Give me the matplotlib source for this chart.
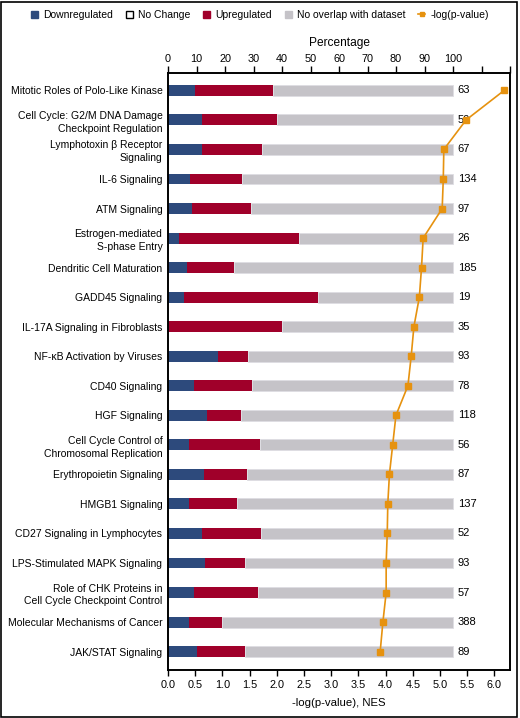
import matplotlib
matplotlib.use("Agg")
import matplotlib.pyplot as plt
from matplotlib.patches import Patch, Rectangle
from matplotlib.lines import Line2D

plt.rcParams['font.family'] = ['Liberation Sans', 'DejaVu Sans']

pathways = [
    "Mitotic Roles of Polo-Like Kinase",
    "Cell Cycle: G2/M DNA Damage\nCheckpoint Regulation",
    "Lymphotoxin β Receptor\nSignaling",
    "IL-6 Signaling",
    "ATM Signaling",
    "Estrogen-mediated\nS-phase Entry",
    "Dendritic Cell Maturation",
    "GADD45 Signaling",
    "IL-17A Signaling in Fibroblasts",
    "NF-κB Activation by Viruses",
    "CD40 Signaling",
    "HGF Signaling",
    "Cell Cycle Control of\nChromosomal Replication",
    "Erythropoietin Signaling",
    "HMGB1 Signaling",
    "CD27 Signaling in Lymphocytes",
    "LPS-Stimulated MAPK Signaling",
    "Role of CHK Proteins in\nCell Cycle Checkpoint Control",
    "Molecular Mechanisms of Cancer",
    "JAK/STAT Signaling",
]
down_pct = [9.5, 11.9, 11.9, 7.6, 8.4, 3.9, 6.7, 5.5, 0.0, 17.4,
            9.0, 13.8, 7.4, 12.7, 7.4, 11.8, 13.0, 9.0, 7.4, 10.3]
up_pct = [27.5, 26.5, 21.1, 18.5, 20.6, 42.2, 16.5, 47.0, 39.9, 10.6,
          20.5, 11.8, 24.8, 15.0, 16.7, 20.9, 13.9, 22.5, 11.5, 16.8]
nochange_pct = [0.0] * 20
gene_counts = [63, 50, 67, 134, 97, 26, 185, 19, 35, 93,
               78, 118, 56, 87, 137, 52, 93, 57, 388, 89]
neg_log_p = [6.18, 5.48, 5.07, 5.06, 5.04, 4.69, 4.66, 4.62, 4.52, 4.47,
             4.41, 4.19, 4.13, 4.07, 4.04, 4.03, 4.01, 4.01, 3.95, 3.90]

pct_ticks = list(range(0, 121, 10))
pct_labels = [str(t) if t <= 100 else "" for t in pct_ticks]
nes_ticks = [0.0, 0.5, 1.0, 1.5, 2.0, 2.5, 3.0, 3.5, 4.0, 4.5, 5.0, 5.5, 6.0]

C_DOWN = "#2d4a7c"
C_UP = "#a0002a"
C_NONE = "#c5c3c8"
C_LINE = "#e6920f"

fig = plt.figure(figsize=(5.2, 7.18), dpi=100)
fig.patches.append(Rectangle((0.002, 0.002), 0.992, 0.995, transform=fig.transFigure,
                             fill=False, edgecolor="black", linewidth=1.2))

ax = fig.add_axes([0.3231, 0.0669, 0.6577, 0.8315])
ax2 = ax.twiny()
n = len(pathways)
y = list(range(n))
bh = 0.37

left_up = [d + c for d, c in zip(down_pct, nochange_pct)]
left_none = [d + c + u for d, c, u in zip(down_pct, nochange_pct, up_pct)]
rest = [100 - l for l in left_none]

ax.barh(y, rest, left=left_none, height=bh, color=C_NONE, edgecolor="#dedde2", linewidth=0.6)
ax.barh(y, down_pct, left=0, height=bh, color=C_DOWN, linewidth=0)
ax.barh(y, nochange_pct, left=down_pct, height=bh, color="white", linewidth=0)
ax.barh(y, up_pct, left=left_up, height=bh, color=C_UP, linewidth=0)

for yi, cnt in zip(y, gene_counts):
    ax.text(101.7, yi, str(cnt), va="center", ha="left", fontsize=8)

ax.set_xlim(0, 120)
ax.set_ylim(n - 1 + 0.62, -0.59)
ax.xaxis.tick_top()
ax.xaxis.set_label_position("top")
ax.set_xticks(pct_ticks)
ax.set_xticklabels(pct_labels, fontsize=7.8)
ax.set_xlabel("Percentage", fontsize=8.6, labelpad=6, fontstretch="condensed")
ax.set_yticks(y)
ax.set_yticklabels(pathways, fontsize=7.45, linespacing=1.35)
ax.tick_params(axis="y", length=0, pad=4)
ax.tick_params(axis="x", direction="out", length=5, width=1, pad=1.5)

ax2.xaxis.tick_bottom()
ax2.xaxis.set_label_position("bottom")
ax2.plot(neg_log_p, y, color=C_LINE, marker="s", markersize=4.2, linewidth=1.2)
ax2.set_xlim(0, 342 / 54.4)
ax2.set_xticks(nes_ticks)
ax2.set_xticklabels([f"{t:.1f}" for t in nes_ticks], fontsize=7.8)
ax2.set_xlabel("-log(p-value), NES", fontsize=8.2, labelpad=6)
ax2.tick_params(axis="x", direction="out", length=4, width=1, pad=3)

for a in (ax, ax2):
    for s in a.spines.values():
        s.set_linewidth(1.2)
        s.set_color("black")

handles = [
    Patch(facecolor=C_DOWN, edgecolor=C_DOWN),
    Patch(facecolor="white", edgecolor="black", linewidth=1),
    Patch(facecolor=C_UP, edgecolor=C_UP),
    Patch(facecolor=C_NONE, edgecolor=C_NONE),
    Line2D([0], [0], color=C_LINE, marker="s", markersize=3.5, linewidth=1.2),
]
labels = ["Downregulated", "No Change", "Upregulated", "No overlap with dataset", "-log(p-value)"]
fig.legend(handles, labels, loc="center", bbox_to_anchor=(0.5, 0.979), ncol=5,
           frameon=False, fontsize=7.5, handlelength=0.7, handleheight=0.7,
           handletextpad=0.5, columnspacing=1.2)

fig.savefig("out.png", dpi=100)
